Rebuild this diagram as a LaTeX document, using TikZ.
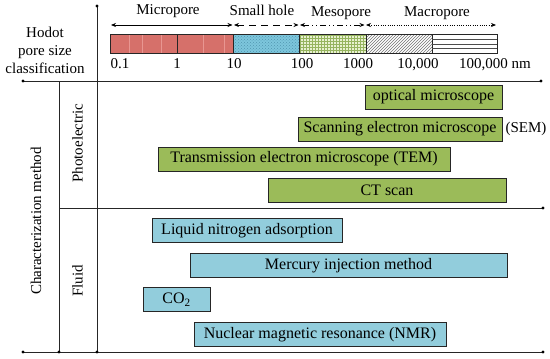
\documentclass[tikz,border=0pt]{standalone}
\usepackage{fontspec}
\setmainfont{Liberation Serif}
\usetikzlibrary{arrows.meta,patterns}
\definecolor{redbar}{RGB}{214,112,106}
\definecolor{redline}{RGB}{232,150,145}
\definecolor{bluebar}{RGB}{125,198,220}
\definecolor{bluedot}{RGB}{80,150,175}
\definecolor{greenbar}{RGB}{232,241,208}
\definecolor{greengrid}{RGB}{150,180,95}
\definecolor{boxgreen}{RGB}{155,187,89}
\definecolor{boxblue}{RGB}{146,205,220}
\begin{document}
\begin{tikzpicture}[x=1pt,y=-1pt,
  every node/.style={font=\fontsize{15}{18}\selectfont, inner sep=0pt},
  axis/.style={line width=0.9pt, black!85},
  dotend/.style={fill=black, draw=none},
  gbox/.style={draw=black!85, line width=0.9pt, fill=boxgreen, minimum height=24pt, font=\fontsize{16}{18}\selectfont},
  bbox/.style={draw=black!85, line width=0.9pt, fill=boxblue, minimum height=24.5pt, font=\fontsize{16}{18}\selectfont},
  rangearrow/.style={line width=0.7pt, {Stealth[length=5pt,width=4pt]}-{Stealth[length=5pt,width=4pt]}},
  seg/.style={draw=black!85, line width=0.7pt}
]
\useasboundingbox (0,0) rectangle (550,359);

% frame coordinates
\coordinate (vtop) at (97,6);
\coordinate (vbot) at (97,352);
\coordinate (ltop) at (23,81);
\coordinate (rtop) at (541,81);
\coordinate (lmidv) at (59,81);
\coordinate (lbotv) at (59,352);
\coordinate (mleft) at (59,208);
\coordinate (mright) at (543,208);
\coordinate (bleft) at (23,352);
\coordinate (bright) at (543,352);

\draw[axis] (vtop) -- (vbot);
\draw[axis] (ltop) -- (rtop);
\draw[axis] (lmidv) -- (lbotv);
\draw[axis] (mleft) -- (mright);
\draw[axis] (bleft) -- (bright);
\foreach \p in {vtop,vbot,ltop,rtop,lbotv,mright,bleft,bright}
  \fill[dotend] (\p) circle (1.7pt);

% header text
\node[align=center, anchor=base] (hodot) at (45,73) {Hodot\\pore size\\classification};

% range labels
\node[anchor=base] (lmicro) at (168,14) {Micropore};
\node[anchor=base] (lsmall) at (262,15) {Small hole};
\node[anchor=base] (lmeso) at (341,16.5) {Mesopore};
\node[anchor=base] (lmacro) at (437,16.5) {Macropore};

% range arrows
\coordinate (a0) at (111,25);
\coordinate (a1) at (232.5,25);
\coordinate (a2) at (234,25);
\coordinate (a3) at (298.5,25);
\coordinate (a4) at (300,25);
\coordinate (a5) at (364.5,25);
\coordinate (a6) at (366,25);
\coordinate (a7) at (496,25);
\draw[rangearrow] (a0) -- (a1);
\draw[rangearrow, dash pattern=on 7pt off 5pt] (a2) -- (a3);
\draw[rangearrow, dash pattern=on 6pt off 3pt on 1pt off 3pt on 1pt off 3pt] (a4) -- (a5);
\draw[rangearrow, dash pattern=on 1pt off 1.3pt] (a6) -- (a7);

% scale bar
\fill[redbar] (110,34.5) rectangle (233,53);
\foreach \xx in {129,142,161,203,224}
  \draw[redline, line width=0.4pt] (\xx,34.5) -- (\xx,53);
\draw[seg] (110,34.5) rectangle (233,53);
\draw[seg] (177,34.5) -- (177,53);
\fill[bluebar] (233,34.5) rectangle (299,53);
\fill[pattern=crosshatch dots, pattern color=bluedot] (233,34.5) rectangle (299,53);
\draw[seg] (233,34.5) rectangle (299,53);
\fill[greenbar] (299,34.5) rectangle (366,53);
\fill[pattern=grid, pattern color=greengrid] (299,34.5) rectangle (366,53);
\draw[seg] (299,34.5) rectangle (366,53);
\fill[white] (366,34.5) rectangle (432,53);
\fill[pattern=north east lines, pattern color=black!55] (366,34.5) rectangle (432,53);
\draw[seg] (366,34.5) rectangle (432,53);
\draw[seg] (432,34.5) rectangle (497,53);
\foreach \yy in {39.5,44,48.5}
  \draw[black!70, line width=0.5pt] (432,\yy) -- (497,\yy);

% tick labels
\node[anchor=base] (t1) at (120,68) {0.1};
\node[anchor=base] (t2) at (177,68) {1};
\node[anchor=base] (t3) at (234,68) {10};
\node[anchor=base] (t4) at (302,68) {100};
\node[anchor=base] (t5) at (358,68) {1000};
\node[anchor=base] (t6) at (418,68) {10,000};
\node[anchor=base] (t7) at (495,68) {100,000 nm};

% left column labels
\node[rotate=90] (cm) at (36,221) {Characterization method};
\node[rotate=90] (pe) at (77.5,143) {Photoelectric};
\node[rotate=90] (fl) at (77.5,281) {Fluid};

% photoelectric methods
\node[gbox, minimum width=137pt] (opt) at (433.5,97) {optical microscope};
\node[gbox, minimum width=204pt] (sem) at (400,129) {Scanning electron microscope};
\node (semlab) at (526,129) {(SEM)};
\node[gbox, minimum width=292pt] (tem) at (304,159) {Transmission electron microscope (TEM)};
\node[gbox, minimum width=238pt] (ct) at (387,190) {CT scan};

% fluid methods
\node[bbox, minimum width=190pt] (liq) at (247,230.5) {Liquid nitrogen adsorption};
\node[bbox, minimum width=317pt] (mer) at (348.5,265.5) {Mercury injection method};
\node[bbox, minimum width=67pt] (co2) at (176.5,299.5) {CO\textsubscript{2}};
\node[bbox, minimum width=252pt] (nmr) at (320,334.5) {Nuclear magnetic resonance (NMR)};
\end{tikzpicture}
\end{document}
